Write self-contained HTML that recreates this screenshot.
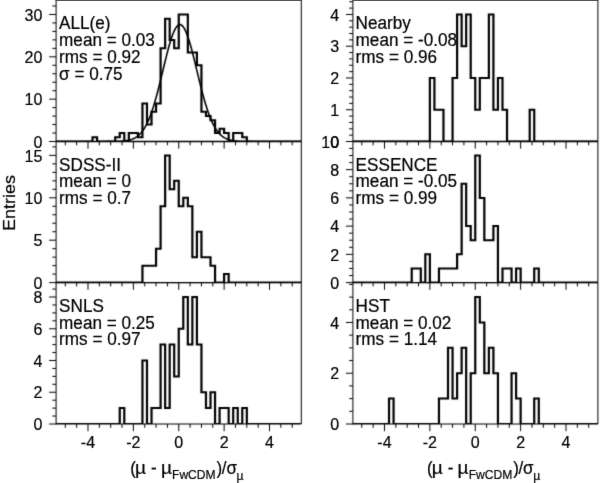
<!DOCTYPE html>
<html><head><meta charset="utf-8"><style>
html,body{margin:0;padding:0;background:#fff;overflow:hidden;}
svg{display:block;}
text{font-family:"Liberation Sans",sans-serif;fill:#000;stroke:#000;stroke-width:0.2px;}
.ln{fill:none;stroke:#000;stroke-width:1.0;}
.hi{fill:none;stroke:#000;stroke-width:2.0;stroke-linejoin:miter;}
.fit{fill:none;stroke:#000;stroke-width:1.6;}
.lb{font-size:16.0px;}
.tx{font-size:17.15px;}
.yt{font-size:16.9px;}
</style></head><body>
<svg width="600" height="483" viewBox="0 0 600 483">
<defs><clipPath id="c0"><rect x="56.1" y="0" width="245.2" height="141.5"/></clipPath><clipPath id="c1"><rect x="56.1" y="141.5" width="245.2" height="141.1"/></clipPath><clipPath id="c2"><rect x="56.1" y="282.6" width="245.2" height="141.4"/></clipPath><clipPath id="c3"><rect x="352.9" y="0" width="245" height="141.5"/></clipPath><clipPath id="c4"><rect x="352.9" y="141.5" width="245" height="141.1"/></clipPath><clipPath id="c5"><rect x="352.9" y="282.6" width="245" height="141.4"/></clipPath><filter id="b" filterUnits="userSpaceOnUse" x="0" y="0" width="600" height="483" color-interpolation-filters="sRGB"><feConvolveMatrix order="3" kernelMatrix="0.01764 0.09754 0.01764 0.09754 0.53925 0.09754 0.01764 0.09754 0.01764"/></filter><filter id="n" filterUnits="userSpaceOnUse" x="0" y="0" width="600" height="483" color-interpolation-filters="sRGB"><feConvolveMatrix order="3" kernelMatrix="0.00586 0.06483 0.00586 0.06483 0.71722 0.06483 0.00586 0.06483 0.00586"/></filter></defs>
<g filter="url(#b)">
<rect width="600" height="483" fill="#fff"/>
<g clip-path="url(#c0)"><path d="M51.11 141.5H84.12V137.27H88.25V141.5H104.75V137.27H108.87V133.03H112.99V141.5H117.12V133.03H125.37V137.27H129.5V103.39H133.62V124.56H137.75V111.86H141.87V103.39H146V48.35H150.13V18.71H154.25V39.88H158.37V48.35H162.5V14.48H170.75V52.59H179V65.29H183.13V111.86H187.25V116.1H191.38V120.33H195.5V133.03H199.63V128.8H203.75V133.03H207.88V141.5H212.01V133.03H220.25V137.27H224.38V141.5H273.89" class="hi" transform="scale(1.1,1)"/></g>
<path d="M106.14 141.49L106.63 141.49L107.11 141.49L107.59 141.49L108.08 141.48L108.56 141.48L109.05 141.48L109.53 141.48L110.01 141.47L110.5 141.47L110.98 141.47L111.47 141.46L111.95 141.46L112.43 141.45L112.92 141.45L113.4 141.44L113.89 141.44L114.37 141.43L114.85 141.42L115.34 141.41L115.82 141.4L116.31 141.39L116.79 141.38L117.28 141.37L117.76 141.35L118.24 141.33L118.73 141.32L119.21 141.3L119.7 141.28L120.18 141.25L120.66 141.23L121.15 141.2L121.63 141.17L122.12 141.13L122.6 141.1L123.08 141.05L123.57 141.01L124.05 140.96L124.54 140.91L125.02 140.85L125.5 140.79L125.99 140.72L126.47 140.65L126.96 140.57L127.44 140.49L127.92 140.4L128.41 140.3L128.89 140.19L129.38 140.07L129.86 139.95L130.34 139.81L130.83 139.67L131.31 139.51L131.8 139.34L132.28 139.16L132.76 138.97L133.25 138.77L133.73 138.55L134.22 138.31L134.7 138.06L135.19 137.79L135.67 137.5L136.15 137.2L136.64 136.87L137.12 136.53L137.61 136.16L138.09 135.77L138.57 135.36L139.06 134.93L139.54 134.46L140.03 133.98L140.51 133.46L140.99 132.92L141.48 132.35L141.96 131.74L142.45 131.11L142.93 130.44L143.41 129.74L143.9 129.01L144.38 128.24L144.87 127.43L145.35 126.59L145.83 125.71L146.32 124.8L146.8 123.84L147.29 122.84L147.77 121.8L148.25 120.73L148.74 119.61L149.22 118.45L149.71 117.25L150.19 116L150.67 114.71L151.16 113.39L151.64 112.01L152.13 110.6L152.61 109.15L153.1 107.65L153.58 106.12L154.06 104.54L154.55 102.93L155.03 101.27L155.52 99.58L156 97.86L156.48 96.1L156.97 94.31L157.45 92.49L157.94 90.63L158.42 88.75L158.9 86.85L159.39 84.92L159.87 82.97L160.36 81.01L160.84 79.03L161.32 77.03L161.81 75.03L162.29 73.02L162.78 71L163.26 68.98L163.74 66.97L164.23 64.96L164.71 62.97L165.2 60.98L165.68 59.01L166.16 57.07L166.65 55.14L167.13 53.25L167.62 51.38L168.1 49.55L168.58 47.76L169.07 46.01L169.55 44.31L170.04 42.66L170.52 41.06L171.01 39.51L171.49 38.03L171.97 36.61L172.46 35.26L172.94 33.97L173.43 32.76L173.91 31.63L174.39 30.57L174.88 29.59L175.36 28.7L175.85 27.89L176.33 27.16L176.81 26.53L177.3 25.98L177.78 25.53L178.27 25.17L178.75 24.9L179.23 24.73L179.72 24.65L180.2 24.66L180.69 24.77L181.17 24.97L181.65 25.27L182.14 25.66L182.62 26.14L183.11 26.72L183.59 27.38L184.07 28.13L184.56 28.97L185.04 29.89L185.53 30.89L186.01 31.97L186.49 33.13L186.98 34.37L187.46 35.67L187.95 37.05L188.43 38.49L188.92 39.99L189.4 41.55L189.88 43.17L190.37 44.84L190.85 46.55L191.34 48.32L191.82 50.12L192.3 51.96L192.79 53.84L193.27 55.74L193.76 57.67L194.24 59.63L194.72 61.6L195.21 63.59L195.69 65.59L196.18 67.6L196.66 69.61L197.14 71.63L197.63 73.64L198.11 75.65L198.6 77.66L199.08 79.65L199.56 81.62L200.05 83.58L200.53 85.53L201.02 87.45L201.5 89.34L201.98 91.22L202.47 93.06L202.95 94.87L203.44 96.65L203.92 98.4L204.4 100.12L204.89 101.79L205.37 103.44L205.86 105.04L206.34 106.6L206.83 108.12L207.31 109.61L207.79 111.05L208.28 112.45L208.76 113.81L209.25 115.12L209.73 116.39L210.21 117.63L210.7 118.81L211.18 119.96L211.67 121.07L212.15 122.13L212.63 123.16L213.12 124.14L213.6 125.09L214.09 125.99L214.57 126.86L215.05 127.69L215.54 128.48L216.02 129.24L216.51 129.96L216.99 130.65L217.47 131.31L217.96 131.93L218.44 132.53L218.93 133.09L219.41 133.63L219.89 134.13L220.38 134.61L220.86 135.07L221.35 135.49L221.83 135.9L222.31 136.28L222.8 136.64L223.28 136.98L223.77 137.3L224.25 137.59L224.74 137.87L225.22 138.14L225.7 138.38L226.19 138.62L226.67 138.83L227.16 139.03L227.64 139.22L228.12 139.4L228.61 139.56L229.09 139.71L229.58 139.85L230.06 139.99L230.54 140.11L231.03 140.22L231.51 140.33L232 140.42L232.48 140.52L232.96 140.6L233.45 140.68L233.93 140.75L234.42 140.81L234.9 140.87L235.38 140.93L235.87 140.98L236.35 141.02L236.84 141.07L237.32 141.11L237.8 141.14L238.29 141.18L238.77 141.21L239.26 141.23L239.74 141.26L240.22 141.28L240.71 141.3L241.19 141.32L241.68 141.34L242.16 141.36L242.65 141.37L243.13 141.38L243.61 141.39L244.1 141.41L244.58 141.42L245.07 141.42L245.55 141.43L246.03 141.44L246.52 141.45L247 141.45L247.49 141.46L247.97 141.46L248.45 141.47L248.94 141.47L249.42 141.47L249.91 141.48L250.39 141.48L250.87 141.48L251.36 141.48" class="fit" clip-path="url(#c0)"/>
<path d="M301.3 0V141.5" class="ln"/>
<path d="M56.1 0V142" class="ln"/>
<path d="M56.1 141.5H301.3" class="ln"/>
<path d="M49.1 141.5H56.1M52.3 133.03H56.1M52.3 124.56H56.1M52.3 116.1H56.1M52.3 107.63H56.1M49.1 99.16H56.1M52.3 90.69H56.1M52.3 82.22H56.1M52.3 73.76H56.1M52.3 65.29H56.1M49.1 56.82H56.1M52.3 48.35H56.1M52.3 39.88H56.1M52.3 31.42H56.1M52.3 22.95H56.1M49.1 14.48H56.1M52.3 6.01H56.1" class="ln"/>
<path d="M65.3 141.5V145.3M76.64 141.5V145.3M87.99 141.5V148.7M99.33 141.5V145.3M110.68 141.5V145.3M122.03 141.5V145.3M133.37 141.5V148.7M144.72 141.5V145.3M156.06 141.5V145.3M167.41 141.5V145.3M178.75 141.5V148.7M190.09 141.5V145.3M201.44 141.5V145.3M212.78 141.5V145.3M224.13 141.5V148.7M235.47 141.5V145.3M246.82 141.5V145.3M258.17 141.5V145.3M269.51 141.5V148.7M280.86 141.5V145.3M292.2 141.5V145.3" class="ln"/>
<g clip-path="url(#c1)"><path d="M51.11 282.6H129.5V265.64H141.87V248.68H146V206.28H150.13V155.4H154.25V189.32H158.37V180.84H162.5V206.28H166.63V197.8H170.75V206.28H174.87V257.16H179V231.72H183.13V257.16H191.38V265.64H195.5V282.6H203.75V274.12H207.88V282.6H273.89" class="hi" transform="scale(1.1,1)"/></g>
<path d="M56.1 141.5H301.3" class="ln" style="stroke-width:1.4"/>
<path d="M301.3 141.5V282.6" class="ln"/>
<path d="M56.1 141.5V283.1" class="ln"/>
<path d="M56.1 282.6H301.3" class="ln"/>
<path d="M49.1 282.6H56.1M52.3 274.12H56.1M52.3 265.64H56.1M52.3 257.16H56.1M52.3 248.68H56.1M49.1 240.2H56.1M52.3 231.72H56.1M52.3 223.24H56.1M52.3 214.76H56.1M52.3 206.28H56.1M49.1 197.8H56.1M52.3 189.32H56.1M52.3 180.84H56.1M52.3 172.36H56.1M52.3 163.88H56.1M49.1 155.4H56.1M52.3 146.92H56.1" class="ln"/>
<path d="M65.3 282.6V286.4M76.64 282.6V286.4M87.99 282.6V289.8M99.33 282.6V286.4M110.68 282.6V286.4M122.03 282.6V286.4M133.37 282.6V289.8M144.72 282.6V286.4M156.06 282.6V286.4M167.41 282.6V286.4M178.75 282.6V289.8M190.09 282.6V286.4M201.44 282.6V286.4M212.78 282.6V286.4M224.13 282.6V289.8M235.47 282.6V286.4M246.82 282.6V286.4M258.17 282.6V286.4M269.51 282.6V289.8M280.86 282.6V286.4M292.2 282.6V286.4" class="ln"/>
<g clip-path="url(#c2)"><path d="M51.11 424H108.87V408.12H112.99V424H129.5V360.5H133.62V424H137.75V408.12H146V344.62H150.13V408.12H154.25V344.62H158.37V376.38H162.5V328.75H166.63V297H170.75V344.62H174.87V297H179V344.62H183.13V392.25H187.25V408.12H191.38V392.25H195.5V424H199.63V408.12H207.88V424H212.01V408.12H216.13V424H220.25V408.12H224.38V424H273.89" class="hi" transform="scale(1.1,1)"/></g>
<path d="M56.1 282.6H301.3" class="ln" style="stroke-width:1.4"/>
<path d="M301.3 282.6V424" class="ln"/>
<path d="M56.1 282.6V424.5" class="ln"/>
<path d="M56.1 424H301.3" class="ln"/>
<path d="M49.1 424H56.1M52.3 416.06H56.1M52.3 408.12H56.1M52.3 400.19H56.1M49.1 392.25H56.1M52.3 384.31H56.1M52.3 376.38H56.1M52.3 368.44H56.1M49.1 360.5H56.1M52.3 352.56H56.1M52.3 344.62H56.1M52.3 336.69H56.1M49.1 328.75H56.1M52.3 320.81H56.1M52.3 312.88H56.1M52.3 304.94H56.1M49.1 297H56.1M52.3 289.06H56.1" class="ln"/>
<path d="M65.3 424V427.8M76.64 424V427.8M87.99 424V431.2M99.33 424V427.8M110.68 424V427.8M122.03 424V427.8M133.37 424V431.2M144.72 424V427.8M156.06 424V427.8M167.41 424V427.8M178.75 424V431.2M190.09 424V427.8M201.44 424V427.8M212.78 424V427.8M224.13 424V431.2M235.47 424V427.8M246.82 424V427.8M258.17 424V427.8M269.51 424V431.2M280.86 424V427.8M292.2 424V427.8" class="ln"/>
<g clip-path="url(#c3)"><path d="M320.65 141.5H390.79V77.98H394.92V109.74H403.16V141.5H411.42V77.98H415.55V14.46H419.67V46.22H423.79V14.46H427.92V77.98H432.05V109.74H436.17V77.98H444.42V14.46H448.55V109.74H452.67V77.98H456.8V109.74H460.93V141.5H481.55V109.74H485.67V141.5H543.44" class="hi" transform="scale(1.1,1)"/></g>
<path d="M597.9 0V141.5" class="ln"/>
<path d="M352.9 0V142" class="ln"/>
<path d="M352.9 141.5H597.9" class="ln"/>
<path d="M345.9 141.5H352.9M349.1 135.15H352.9M349.1 128.8H352.9M349.1 122.44H352.9M349.1 116.09H352.9M345.9 109.74H352.9M349.1 103.39H352.9M349.1 97.04H352.9M349.1 90.68H352.9M349.1 84.33H352.9M345.9 77.98H352.9M349.1 71.63H352.9M349.1 65.28H352.9M349.1 58.92H352.9M349.1 52.57H352.9M345.9 46.22H352.9M349.1 39.87H352.9M349.1 33.52H352.9M349.1 27.16H352.9M349.1 20.81H352.9M345.9 14.46H352.9M349.1 8.11H352.9M349.1 1.76H352.9" class="ln"/>
<path d="M361.8 141.5V145.3M373.14 141.5V145.3M384.49 141.5V148.7M395.83 141.5V145.3M407.18 141.5V145.3M418.52 141.5V145.3M429.87 141.5V148.7M441.21 141.5V145.3M452.56 141.5V145.3M463.9 141.5V145.3M475.25 141.5V148.7M486.6 141.5V145.3M497.94 141.5V145.3M509.29 141.5V145.3M520.63 141.5V148.7M531.98 141.5V145.3M543.32 141.5V145.3M554.66 141.5V145.3M566.01 141.5V148.7M577.36 141.5V145.3M588.7 141.5V145.3" class="ln"/>
<g clip-path="url(#c4)"><path d="M320.65 282.6H374.29V268.48H382.54V282.6H386.66V254.36H390.79V282.6H399.05V268.48H415.55V254.36H419.67V183.76H423.79V226.12H427.92V240.24H432.05V155.52H436.17V197.88H440.3V240.24H448.55V226.12H452.67V282.6H456.8V268.48H465.05V282.6H469.17V268.48H473.3V282.6H485.67V268.48H489.8V282.6H543.44" class="hi" transform="scale(1.1,1)"/></g>
<path d="M352.9 141.5H597.9" class="ln" style="stroke-width:1.4"/>
<path d="M597.9 141.5V282.6" class="ln"/>
<path d="M352.9 141.5V283.1" class="ln"/>
<path d="M352.9 282.6H597.9" class="ln"/>
<path d="M345.9 282.6H352.9M349.1 275.54H352.9M349.1 268.48H352.9M349.1 261.42H352.9M345.9 254.36H352.9M349.1 247.3H352.9M349.1 240.24H352.9M349.1 233.18H352.9M345.9 226.12H352.9M349.1 219.06H352.9M349.1 212H352.9M349.1 204.94H352.9M345.9 197.88H352.9M349.1 190.82H352.9M349.1 183.76H352.9M349.1 176.7H352.9M345.9 169.64H352.9M349.1 162.58H352.9M349.1 155.52H352.9M349.1 148.46H352.9" class="ln"/>
<path d="M361.8 282.6V286.4M373.14 282.6V286.4M384.49 282.6V289.8M395.83 282.6V286.4M407.18 282.6V286.4M418.52 282.6V286.4M429.87 282.6V289.8M441.21 282.6V286.4M452.56 282.6V286.4M463.9 282.6V286.4M475.25 282.6V289.8M486.6 282.6V286.4M497.94 282.6V286.4M509.29 282.6V286.4M520.63 282.6V289.8M531.98 282.6V286.4M543.32 282.6V286.4M554.66 282.6V286.4M566.01 282.6V289.8M577.36 282.6V286.4M588.7 282.6V286.4" class="ln"/>
<g clip-path="url(#c5)"><path d="M320.65 424H353.66V398.62H357.79V424H399.05V398.62H407.29V347.86H411.42V398.62H415.55V373.24H419.67V347.86H423.79V424H427.92V373.24H432.05V297.1H436.17V322.48H440.3V373.24H444.42V347.86H448.55V373.24H452.67V424H465.05V373.24H469.17V398.62H473.3V424H485.67V398.62H489.8V424H543.44" class="hi" transform="scale(1.1,1)"/></g>
<path d="M352.9 282.6H597.9" class="ln" style="stroke-width:1.4"/>
<path d="M597.9 282.6V424" class="ln"/>
<path d="M352.9 282.6V424.5" class="ln"/>
<path d="M352.9 424H597.9" class="ln"/>
<path d="M345.9 424H352.9M349.1 411.31H352.9M349.1 398.62H352.9M349.1 385.93H352.9M345.9 373.24H352.9M349.1 360.55H352.9M349.1 347.86H352.9M349.1 335.17H352.9M345.9 322.48H352.9M349.1 309.79H352.9M349.1 297.1H352.9M349.1 284.41H352.9" class="ln"/>
<path d="M361.8 424V427.8M373.14 424V427.8M384.49 424V431.2M395.83 424V427.8M407.18 424V427.8M418.52 424V427.8M429.87 424V431.2M441.21 424V427.8M452.56 424V427.8M463.9 424V427.8M475.25 424V431.2M486.6 424V427.8M497.94 424V427.8M509.29 424V427.8M520.63 424V431.2M531.98 424V427.8M543.32 424V427.8M554.66 424V427.8M566.01 424V431.2M577.36 424V427.8M588.7 424V427.8" class="ln"/>
</g>
<rect x="55.6" y="0" width="246.2" height="1" fill="#555"/><rect x="352.4" y="0" width="246" height="1" fill="#555"/>
<g class="T" filter="url(#n)"><text x="42.3" y="147.73" class="lb" text-anchor="end">0</text>
<text x="42.3" y="105.39" class="lb" text-anchor="end">10</text>
<text x="42.3" y="63.05" class="lb" text-anchor="end">20</text>
<text x="42.3" y="20.71" class="lb" text-anchor="end">30</text>
<text x="59.1" y="29.15" class="tx" transform="matrix(1 0 0 1.03 0 -0.87)">ALL(e)</text>
<text x="59.1" y="46" class="tx" transform="matrix(1 0 0 1.03 0 -1.38)">mean = 0.03</text>
<text x="59.1" y="62.85" class="tx" transform="matrix(1 0 0 1.03 0 -1.89)">rms = 0.92</text>
<text x="59.1" y="79.7" class="tx" transform="matrix(1 0 0 1.03 0 -2.39)">σ = 0.75</text>
<text x="42.3" y="288.83" class="lb" text-anchor="end">0</text>
<text x="42.3" y="246.43" class="lb" text-anchor="end">5</text>
<text x="42.3" y="204.03" class="lb" text-anchor="end">10</text>
<text x="42.3" y="161.63" class="lb" text-anchor="end">15</text>
<text x="59.1" y="170.65" class="tx" transform="matrix(1 0 0 1.03 0 -5.12)">SDSS-II</text>
<text x="59.1" y="187.5" class="tx" transform="matrix(1 0 0 1.03 0 -5.63)">mean = 0</text>
<text x="59.1" y="204.35" class="tx" transform="matrix(1 0 0 1.03 0 -6.13)">rms = 0.7</text>
<text x="42.3" y="430.23" class="lb" text-anchor="end">0</text>
<text x="42.3" y="398.48" class="lb" text-anchor="end">2</text>
<text x="42.3" y="366.73" class="lb" text-anchor="end">4</text>
<text x="42.3" y="334.98" class="lb" text-anchor="end">6</text>
<text x="42.3" y="303.23" class="lb" text-anchor="end">8</text>
<text x="59.1" y="311.75" class="tx" transform="matrix(1 0 0 1.03 0 -9.35)">SNLS</text>
<text x="59.1" y="328.6" class="tx" transform="matrix(1 0 0 1.03 0 -9.86)">mean = 0.25</text>
<text x="59.1" y="345.45" class="tx" transform="matrix(1 0 0 1.03 0 -10.36)">rms = 0.97</text>
<text x="339.1" y="147.73" class="lb" text-anchor="end">0</text>
<text x="339.1" y="115.97" class="lb" text-anchor="end">1</text>
<text x="339.1" y="84.21" class="lb" text-anchor="end">2</text>
<text x="339.1" y="52.45" class="lb" text-anchor="end">3</text>
<text x="339.1" y="20.69" class="lb" text-anchor="end">4</text>
<text x="355.6" y="29.15" class="tx" transform="matrix(1 0 0 1.03 0 -0.87)">Nearby</text>
<text x="355.6" y="46" class="tx" transform="matrix(1 0 0 1.03 0 -1.38)">mean = -0.08</text>
<text x="355.6" y="62.85" class="tx" transform="matrix(1 0 0 1.03 0 -1.89)">rms = 0.96</text>
<text x="339.1" y="288.83" class="lb" text-anchor="end">0</text>
<text x="339.1" y="260.59" class="lb" text-anchor="end">2</text>
<text x="339.1" y="232.35" class="lb" text-anchor="end">4</text>
<text x="339.1" y="204.11" class="lb" text-anchor="end">6</text>
<text x="339.1" y="175.87" class="lb" text-anchor="end">8</text>
<text x="339.1" y="147.63" class="lb" text-anchor="end">10</text>
<text x="355.6" y="170.65" class="tx" transform="matrix(1 0 0 1.03 0 -5.12)">ESSENCE</text>
<text x="355.6" y="187.5" class="tx" transform="matrix(1 0 0 1.03 0 -5.63)">mean = -0.05</text>
<text x="355.6" y="204.35" class="tx" transform="matrix(1 0 0 1.03 0 -6.13)">rms = 0.99</text>
<text x="339.1" y="430.23" class="lb" text-anchor="end">0</text>
<text x="339.1" y="379.47" class="lb" text-anchor="end">2</text>
<text x="339.1" y="328.71" class="lb" text-anchor="end">4</text>
<text x="355.6" y="311.75" class="tx" transform="matrix(1 0 0 1.03 0 -9.35)">HST</text>
<text x="355.6" y="328.6" class="tx" transform="matrix(1 0 0 1.03 0 -9.86)">mean = 0.02</text>
<text x="355.6" y="345.45" class="tx" transform="matrix(1 0 0 1.03 0 -10.36)">rms = 1.14</text>
<text x="87.99" y="447.8" class="lb" text-anchor="middle">-4</text>
<text x="133.37" y="447.8" class="lb" text-anchor="middle">-2</text>
<text x="178.75" y="447.8" class="lb" text-anchor="middle">0</text>
<text x="224.13" y="447.8" class="lb" text-anchor="middle">2</text>
<text x="269.51" y="447.8" class="lb" text-anchor="middle">4</text>
<text x="130.25" y="473.6" style="font-size:17px" transform="matrix(1.0 0 0 1.04 0 -18.94)">(</text>
<text x="135.14" y="473.6" style="font-size:17px" transform="matrix(1.12 0 0 1.04 -16.36 -18.94)">µ</text>
<text x="150.99" y="473.6" style="font-size:17px" transform="matrix(1.0 0 0 1.04 0 -18.94)">-</text>
<text x="161.04" y="473.6" style="font-size:17px" transform="matrix(1.12 0 0 1.04 -19.46 -18.94)">µ</text>
<text x="172.01" y="479" style="font-size:12.1px" transform="matrix(1.0 0 0 1.04 0 -19.16)">FwCDM</text>
<text x="216.5" y="473.6" style="font-size:17px" transform="matrix(1.0 0 0 1.04 0 -18.94)">)</text>
<text x="221.85" y="473.6" style="font-size:17px" transform="matrix(1.0 0 0 1.04 0 -18.94)">/</text>
<text x="226.39" y="474.5" style="font-size:17px" transform="matrix(1.0 0 0 1.04 0 -18.98)">σ</text>
<text x="236.51" y="480" style="font-size:11.6px" transform="matrix(1.05 0 0 1.04 -11.87 -19.2)">µ</text>
<text x="384.49" y="447.8" class="lb" text-anchor="middle">-4</text>
<text x="429.87" y="447.8" class="lb" text-anchor="middle">-2</text>
<text x="475.25" y="447.8" class="lb" text-anchor="middle">0</text>
<text x="520.63" y="447.8" class="lb" text-anchor="middle">2</text>
<text x="566.01" y="447.8" class="lb" text-anchor="middle">4</text>
<text x="426.95" y="473.6" style="font-size:17px" transform="matrix(1.0 0 0 1.04 0 -18.94)">(</text>
<text x="431.84" y="473.6" style="font-size:17px" transform="matrix(1.12 0 0 1.04 -51.96 -18.94)">µ</text>
<text x="447.69" y="473.6" style="font-size:17px" transform="matrix(1.0 0 0 1.04 0 -18.94)">-</text>
<text x="457.74" y="473.6" style="font-size:17px" transform="matrix(1.12 0 0 1.04 -55.07 -18.94)">µ</text>
<text x="468.71" y="479" style="font-size:12.1px" transform="matrix(1.0 0 0 1.04 0 -19.16)">FwCDM</text>
<text x="513.2" y="473.6" style="font-size:17px" transform="matrix(1.0 0 0 1.04 0 -18.94)">)</text>
<text x="518.55" y="473.6" style="font-size:17px" transform="matrix(1.0 0 0 1.04 0 -18.94)">/</text>
<text x="523.09" y="474.5" style="font-size:17px" transform="matrix(1.0 0 0 1.04 0 -18.98)">σ</text>
<text x="533.21" y="480" style="font-size:11.6px" transform="matrix(1.05 0 0 1.04 -26.7 -19.2)">µ</text>
<text x="0" y="0" class="yt" text-anchor="middle" transform="translate(14.7 203.0) rotate(-90) scale(1.065 1)">Entries</text></g>
</svg>
</body></html>
